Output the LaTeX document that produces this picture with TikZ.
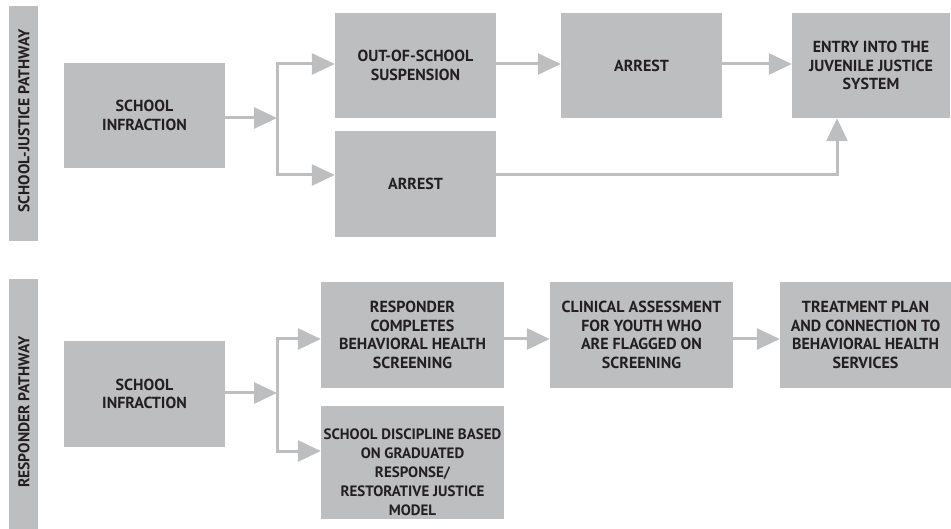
\documentclass[tikz,border=0pt]{standalone}
\usepackage{fontspec}
\setmainfont{PT Sans}
\usetikzlibrary{arrows.meta}
\definecolor{boxgrey}{HTML}{BCBEC0}
\definecolor{ink}{HTML}{231F20}
\tikzset{
  stage/.style={fill=boxgrey, draw=none, inner sep=0pt, align=center,
    text=ink, font=\bfseries\fontsize{16}{18.8}\selectfont},
  band/.style={fill=boxgrey, draw=none, inner sep=0pt, minimum width=29pt},
  bandtext/.style={rotate=90, text=ink, inner sep=0pt,
    font=\bfseries\fontsize{15.6}{18}\selectfont},
  flow/.style={draw=boxgrey, line width=3pt,
    -{Triangle[length=23pt,width=21pt,fill=boxgrey,color=boxgrey]}},
  trunk/.style={draw=boxgrey, line width=3pt, line cap=rect},
}
\begin{document}
\begin{tikzpicture}[x=1pt, y=-1pt]
\useasboundingbox (0,0) rectangle (951,529);

% ---- school-justice pathway ----
\node[band, minimum height=235pt] (bandA) at (23.5,123.5) {};
\node[bandtext] (bandAtxt) at (24,121) {SCHOOL-JUSTICE PATHWAY};

\node[stage, minimum width=161pt, minimum height=105pt] (siA) at (144.5,115.5) {SCHOOL\\INFRACTION};
\node[stage, minimum width=161pt, minimum height=105pt] (oos) at (415.5,65.5) {OUT-OF-SCHOOL\\SUSPENSION};
\node[stage, minimum width=161pt, minimum height=105pt] (arrA) at (641.5,65.5) {ARREST};
\node[stage, minimum width=158pt, minimum height=105pt] (entry) at (871,65.5) {ENTRY INTO THE\\JUVENILE JUSTICE\\SYSTEM};
\node[stage, minimum width=161pt, minimum height=106pt] (arrB) at (415.5,184) {ARREST};

\coordinate (jA) at (277,118);
\coordinate (jAtop) at (277,64);
\coordinate (jAbot) at (277,175);
\coordinate (turnA) at (837,175);

\draw[trunk] (jAtop) -- (jAbot);
\draw[flow] (siA.east |- jA) -- (jA);
\draw[flow] (jAtop) -- (oos.west |- jAtop);
\draw[flow] (jAbot) -- (arrB.west |- jAbot);
\draw[flow] (oos.east |- jAtop) -- (arrA.west |- jAtop);
\draw[flow] (arrA.east |- jAtop) -- (entry.west |- jAtop);
\draw[flow] (arrB.east |- turnA) -- (turnA) -- (turnA |- entry.south);

% ---- responder pathway ----
\node[band, minimum height=250pt] (bandB) at (23.5,404) {};
\node[bandtext] (bandBtxt) at (24,412) {RESPONDER PATHWAY};

\node[stage, minimum width=161pt, minimum height=106pt] (siB) at (144.5,394) {SCHOOL\\INFRACTION};
\node[stage, minimum width=183pt, minimum height=106pt] (resp) at (412.5,335) {RESPONDER\\COMPLETES\\BEHAVIORAL HEALTH\\SCREENING};
\node[stage, minimum width=183pt, minimum height=113pt] (disc) at (412.5,462.5) {};
\node[stage, fill=none, font=\bfseries\fontsize{15}{19}\selectfont] (disctxt) at (412.5,472.5) {SCHOOL DISCIPLINE BASED\\ON GRADUATED\\RESPONSE/\\RESTORATIVE JUSTICE\\MODEL};
\node[stage, minimum width=183pt, minimum height=106pt] (clin) at (641.5,335) {CLINICAL ASSESSMENT\\FOR YOUTH WHO\\ARE FLAGGED ON\\SCREENING};
\node[stage, minimum width=171pt, minimum height=106pt] (treat) at (865.5,335) {TREATMENT PLAN\\AND CONNECTION TO\\BEHAVIORAL HEALTH\\SERVICES};

\coordinate (jB) at (277,393);
\coordinate (jBtop) at (277,339);
\coordinate (jBbot) at (277,451);

\draw[trunk] (jBtop) -- (jBbot);
\draw[flow] (siB.east |- jB) -- (jB);
\draw[flow] (jBtop) -- (resp.west |- jBtop);
\draw[flow] (jBbot) -- (disc.west |- jBbot);
\draw[flow] (resp.east |- jBtop) -- (clin.west |- jBtop);
\draw[flow] (clin.east |- jBtop) -- (treat.west |- jBtop);
\end{tikzpicture}
\end{document}
